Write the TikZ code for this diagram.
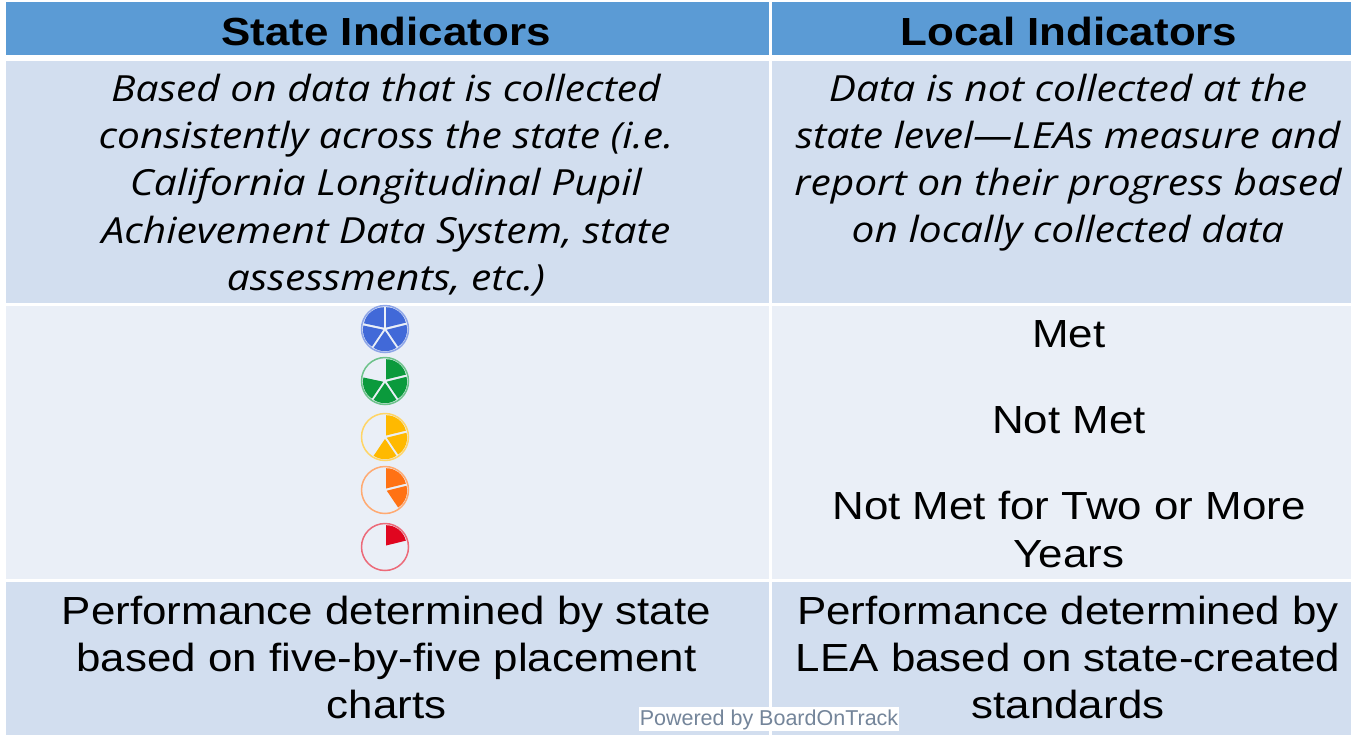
\documentclass[tikz,border=0pt]{standalone}
\usepackage{fontspec}
\setmainfont{Liberation Sans}
\newfontfamily\bodyfont[FakeStretch=1.12]{Liberation Sans}
\newfontfamily\itfont[FakeStretch=1.13]{Open Sans}
\definecolor{headblue}{HTML}{5B9BD5}
\definecolor{rowdark}{HTML}{D2DEEF}
\definecolor{rowlight}{HTML}{EAEFF7}
\definecolor{wmgray}{HTML}{74859A}
\definecolor{pblue}{HTML}{4169D8}
\definecolor{pgreen}{HTML}{0B9A3C}
\definecolor{pyellow}{HTML}{FFB900}
\definecolor{porange}{HTML}{FF7214}
\definecolor{pred}{HTML}{E0061F}
\tikzset{
  x=1pt,y=-1pt,
  cell/.style={fill=#1,draw=none},
  head/.style={font=\fontsize{39.2}{44}\selectfont\bodyfont\bfseries,text=black,align=center,inner sep=0pt},
  ital/.style={font=\fontsize{36}{47.2}\selectfont\itfont\itshape,text=black,align=center,inner sep=0pt},
  body/.style={font=\fontsize{39.2}{47.2}\selectfont\bodyfont,text=black,align=center,inner sep=0pt},
  ring/.style={draw=#1!60!white,line width=1.5pt,fill=none},
  wedge/.style={fill=#1,draw=none},
  wm/.style={fill=white,text=wmgray,font=\fontsize{21.5}{24}\selectfont,inner xsep=1pt,inner ysep=0pt,text height=18.5pt,text depth=5.5pt}
}
\newcommand{\pie}[4]{% x, y, colour, filled count
  \draw[ring=#3] (#1,#2) circle[radius=23.5];
  \foreach \k/\aa/\ab in {1/90/14,2/14/-56,3/-56/-124,4/-124/-192,5/-192/-270}{
    \ifnum\k>#4\relax\else
    \pgfmathsetmacro{\mid}{(\aa+\ab)/2}
    \pgfmathsetmacro{\cx}{#1+1.9*cos(\mid)}
    \pgfmathsetmacro{\cy}{#2-1.9*sin(\mid)}
    \fill[wedge=#3] (\cx,\cy) -- ({\cx+20.3*cos(\aa)},{\cy-20.3*sin(\aa)})
      \foreach \t in {1,...,8}{ -- ({\cx+20.3*cos(\aa+(\ab-\aa)*\t/8)},{\cy-20.3*sin(\aa+(\ab-\aa)*\t/8)}) }
      -- cycle;
    \fi
  }
}
\begin{document}
\begin{tikzpicture}
\useasboundingbox (0,0) rectangle (1351,737);
\fill[white] (0,0) rectangle (1351,737);
\fill[cell=headblue] (6,2) rectangle (769,55);
\fill[cell=headblue] (772,2) rectangle (1351,55);
\fill[cell=rowdark] (6,61) rectangle (769,303);
\fill[cell=rowdark] (772,61) rectangle (1351,303);
\fill[cell=rowlight] (6,305.5) rectangle (769,579);
\fill[cell=rowlight] (772,305.5) rectangle (1351,579);
\fill[cell=rowdark] (6,581.5) rectangle (769,735);
\fill[cell=rowdark] (772,581.5) rectangle (1351,735);

\node[head] (h1) at (386,31) {State Indicators};
\node[head] (h2) at (1069,31) {Local Indicators};

\node[ital] (d1) at (386,185) {Based on data that is collected\\consistently across the state (i.e.\\California Longitudinal Pupil\\Achievement Data System, state\\assessments, etc.)};
\node[ital] (d2) at (1068,162.5) {Data is not collected at the\\state level—LEAs measure and\\report on their progress based\\on locally collected data};

\pie{385}{329}{pblue}{5}
\pie{385}{381}{pgreen}{4}
\pie{385}{437}{pyellow}{3}
\pie{385}{490}{porange}{2}
\pie{385}{547}{pred}{1}

\node[body] (m1) at (1069,334.5) {Met};
\node[body] (m2) at (1069,420.5) {Not Met};
\node[body] (m3) at (1069,529.5) {Not Met for Two or More\\Years};

\node[body] (p1) at (386.5,657.5) {Performance determined by state\\based on five-by-five placement\\charts};
\node[body] (p2) at (1068,657.5) {Performance determined by\\LEA based on state-created\\standards};

\node[wm] (w) at (769,719) {Powered by BoardOnTrack};
\end{tikzpicture}
\end{document}
